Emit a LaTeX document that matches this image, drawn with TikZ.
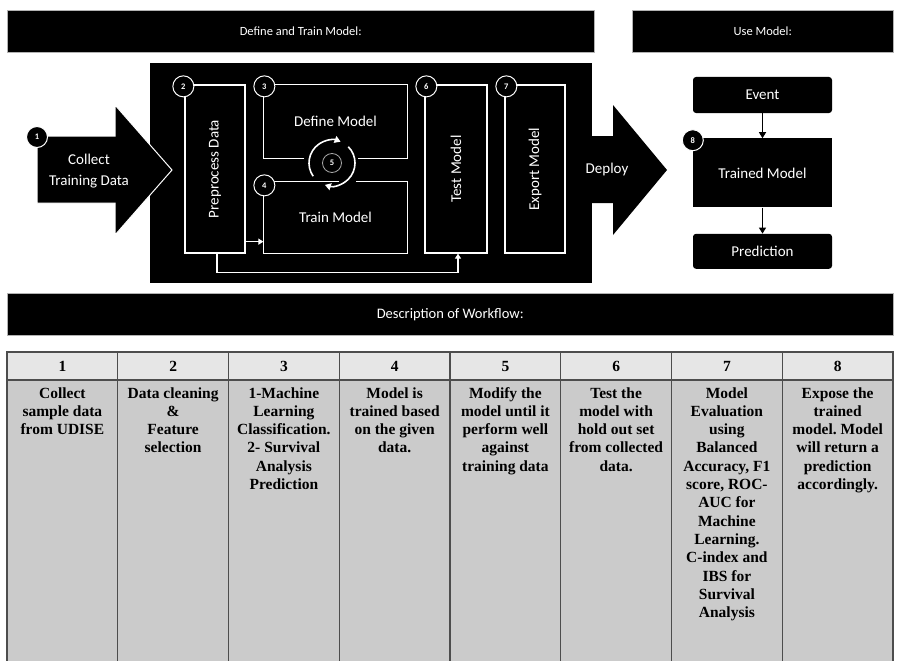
\documentclass[tikz,border=0pt]{standalone}
\usepackage{fontspec}
\usepackage{graphicx}
\setmainfont{Liberation Serif}
\newfontfamily\calibri{Carlito}
\usetikzlibrary{positioning,arrows.meta}
\frenchspacing
\definecolor{tline}{HTML}{4D4D4D}
\definecolor{headgray}{HTML}{E6E6E6}
\definecolor{bodygray}{HTML}{CBCBCB}
\newcommand\labelfont{\calibri\fontsize{15}{21}\selectfont}
\newcommand\tabfont{\fontsize{15.5}{18.3}\selectfont\bfseries}
\newcommand\celltext[1]{\parbox[t][283pt][t]{106pt}{\centering\rule{0pt}{18pt}#1}}
\tikzset{
    bar/.style = {
        fill = black,
        draw = gray!60,
        line width = 0.5pt,
        text = white,
        inner sep = 0pt,
        anchor = north west,
        },
    stepbox/.style = {
        draw = white,
        line width = 1.3pt,
        text = white,
        font = \labelfont,
        inner sep = 0pt,
        },
    edge/.style = {
        draw = white,
        line width = 1.3pt,
        },
    num/.style = {
        circle,
        fill = black,
        draw = white,
        line width = 1pt,
        minimum size = 21pt,
        inner sep = 0pt,
        text = white,
        font = \calibri\fontsize{8.5}{8.5}\selectfont\bfseries,
        },
    wire/.style = {
        draw = white,
        line width = 1.3pt,
        -{Triangle[length=5pt,width=6pt]},
        },
    cycle/.style = {
        draw = white,
        line width = 1.6pt,
        -{Triangle[length=6pt,width=7pt]},
        },
    usebox/.style = {
        fill = black,
        rounded corners = 3pt,
        text = white,
        font = \labelfont,
        minimum width = 139pt,
        },
    flow/.style = {
        draw = black,
        line width = 1.3pt,
        -{Triangle[length=6pt,width=7pt]},
        },
    hcell/.style = {
        draw = tline,
        line width = 1.2pt,
        fill = headgray,
        minimum width = 110.75pt,
        minimum height = 28pt,
        inner sep = 0pt,
        outer sep = 0pt,
        font = \tabfont,
        },
    bcell/.style = {
        draw = tline,
        line width = 1.2pt,
        fill = bodygray,
        minimum width = 110.75pt,
        inner sep = 0pt,
        outer sep = 0pt,
        font = \tabfont,
        },
}
\begin{document}
\begin{tikzpicture}[x=1pt, y=-1pt]
    \useasboundingbox (0,0) rectangle (900,661);

    % headings
    \node[bar, minimum width=587pt, minimum height=42pt] (trainbar) at (7,10)
        {\calibri\fontsize{12.5}{14}\selectfont Define and Train Model:};
    \node[bar, minimum width=261pt, minimum height=42pt] (usebar) at (632,10)
        {\calibri\fontsize{12.5}{14}\selectfont Use Model:};
    \node[bar, minimum width=886pt, minimum height=42pt] (descbar) at (7,293)
        {\calibri\fontsize{14.5}{16}\selectfont Description of Workflow:};

    % define and train
    \node[fill=black, minimum width=442pt, minimum height=220pt, inner sep=0pt, anchor=north west] (stage) at (150,63) {};
    \fill[black, draw=white, line width=1pt] (37,136) -- (115,136) -- (115,105) -- (172,170)
        -- (115,235) -- (115,203) -- (37,203) -- cycle;
    \node[text=white, font=\labelfont, align=center] (collect) at (89,171) {Collect\\Training Data};
    \node[num] (n1) at (37,137) {1};

    \node[stepbox, minimum width=60pt, minimum height=168pt] (pre) at (215,169) {\rotatebox{90}{Preprocess Data}};
    \node[stepbox, draw=none, minimum width=143pt, minimum height=73pt] (define) at (335.5,121.5) {Define Model};
    \node[stepbox, draw=none, minimum width=143pt, minimum height=71pt] (train) at (335.5,217.5) {Train Model};
    \node[stepbox, minimum width=62pt, minimum height=168pt] (test) at (456,169) {\rotatebox{90}{Test Model}};
    \node[stepbox, minimum width=60pt, minimum height=168pt] (export) at (535,169) {\rotatebox{90}{Export Model}};

    \draw[edge] ([xshift=41pt]define.south west) -- (define.south west) -- (define.north west)
        -- (define.north east) -- (define.south east) -- ([xshift=-50pt]define.south east);
    \draw[edge] ([xshift=76pt]train.north west) -- (train.north west) -- (train.south west)
        -- (train.south east) -- (train.north east) -- ([xshift=-52pt]train.north east);

    \node[circle, draw=gray!70, line width=0.8pt, minimum size=19pt, inner sep=0pt, text=white,
        font=\calibri\fontsize{8.5}{8.5}\selectfont\bfseries] (n5) at (332,163) {5};
    \draw[cycle] ([shift={(215:23pt)}]n5.center) arc[start angle=215, end angle=68, radius=23pt];
    \draw[cycle] ([shift={(45:23pt)}]n5.center) arc[start angle=45, end angle=-108, radius=23pt];

    \draw[wire] ([yshift=12pt]pre.south east) -- ([yshift=12pt]train.south west);
    \draw[wire] ([xshift=2pt]pre.south) -- ++(0,19) -| ([xshift=2pt]test.south);

    \node[num] (n2) at ([xshift=-1pt,yshift=-2pt]pre.north west) {2};
    \node[num] (n3) at ([xshift=1pt,yshift=-2pt]define.north west) {3};
    \node[num] (n4) at ([xshift=1pt,yshift=-4pt]train.north west) {4};
    \node[num] (n6) at ([xshift=2pt,yshift=-2pt]test.north west) {6};
    \node[num] (n7) at ([xshift=2pt,yshift=-2pt]export.north west) {7};

    % deploy
    \fill[black] (590,136) -- (613,136) -- (613,105) -- (667,170) -- (613,235) -- (613,203) -- (590,203) -- cycle;
    \node[text=white, font=\labelfont] (deploy) at (607,170) {Deploy};

    % use model
    \node[usebox, minimum height=36pt] (event) at (762.5,95) {Event};
    \node[usebox, rounded corners=0pt, minimum height=69pt, below=25pt of event] (trained) {Trained Model};
    \node[usebox, minimum height=35pt, below=26pt of trained] (pred) {Prediction};
    \node[num] (n8) at ([yshift=-2pt]trained.north west) {8};
    \draw[flow] (event) -- (trained);
    \draw[flow] (trained) -- (pred);

    % description table
    \node[hcell, anchor=north west] (h1) at (7,352) {1};
    \node[hcell, right=0pt of h1] (h2) {2};
    \node[hcell, right=0pt of h2] (h3) {3};
    \node[hcell, right=0pt of h3] (h4) {4};
    \node[hcell, right=0pt of h4] (h5) {5};
    \node[hcell, right=0pt of h5] (h6) {6};
    \node[hcell, right=0pt of h6] (h7) {7};
    \node[hcell, right=0pt of h7] (h8) {8};

    \node[bcell, below=0pt of h1] (b1) {\celltext{Collect\\sample data\\from UDISE}};
    \node[bcell, below=0pt of h2] (b2) {\celltext{Data cleaning\\\&\\Feature\\selection}};
    \node[bcell, below=0pt of h3] (b3) {\celltext{1-Machine\\Learning\\Classification.\\2- Survival\\Analysis\\Prediction}};
    \node[bcell, below=0pt of h4] (b4) {\celltext{Model is\\trained based\\on the given\\data.}};
    \node[bcell, below=0pt of h5] (b5) {\celltext{Modify the\\model until it\\perform well\\against\\training data}};
    \node[bcell, below=0pt of h6] (b6) {\celltext{Test the\\model with\\hold out set\\from collected\\data.}};
    \node[bcell, below=0pt of h7] (b7) {\celltext{Model\\Evaluation\\using\\Balanced\\Accuracy, F1\\score, ROC-\\AUC for\\Machine\\Learning.\\C-index and\\IBS for\\Survival\\Analysis}};
    \node[bcell, below=0pt of h8] (b8) {\celltext{Expose the\\trained\\model. Model\\will return a\\prediction\\accordingly.}};
\end{tikzpicture}
\end{document}
